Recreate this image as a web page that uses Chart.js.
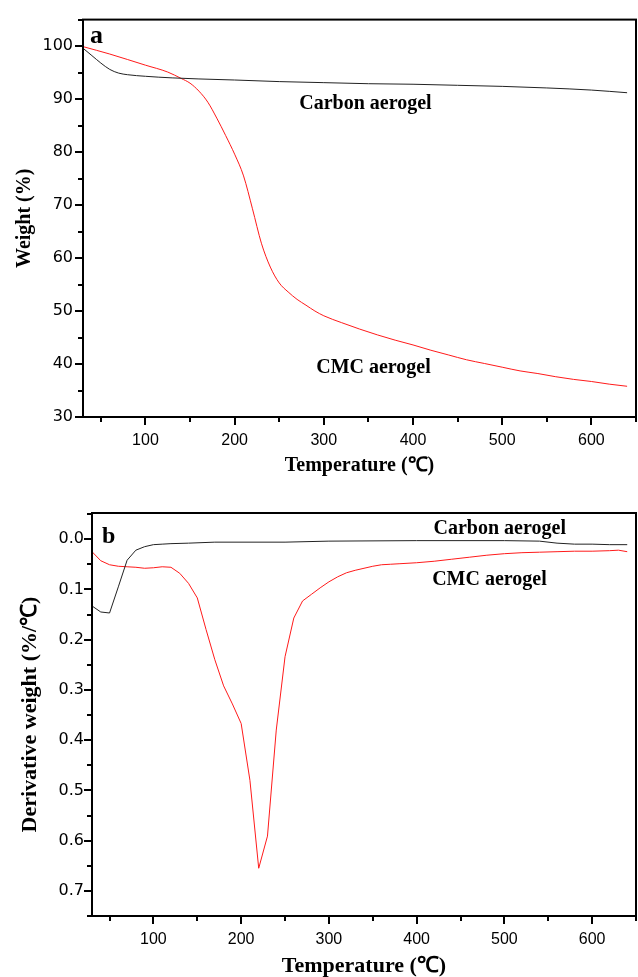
<!DOCTYPE html>
<html>
<head>
<meta charset="utf-8">
<script src="https://cdn.jsdelivr.net/npm/chart.js@4.4.1/dist/chart.umd.min.js"></script>
<style>
body { margin: 0; background: #fff; }
#panel_a { position: absolute; left: 0; top: 0; }
#panel_b { position: absolute; left: 0; top: 490px; }
</style>
</head>
<body>
<canvas id="panel_a" width="638" height="490"></canvas>
<canvas id="panel_b" width="638" height="487"></canvas>
<script>
// panel a: TGA, weight (%)
const tga_temp_carbon = [30, 40, 50, 60, 70, 80, 100, 130, 160, 200, 250, 300, 350, 400, 450, 500, 550, 600, 640];
const tga_carbon = [99.6, 98.2, 96.8, 95.6, 94.9, 94.6, 94.3, 94.0, 93.8, 93.6, 93.3, 93.1, 92.9, 92.8, 92.6, 92.4, 92.1, 91.7, 91.2];
const tga_temp_cmc = [30, 60, 100, 125, 140, 150, 160, 170, 180, 190, 200, 210, 220, 230, 240, 250, 260, 270, 280, 290,
    300, 320, 340, 360, 380, 400, 420, 440, 460, 480, 500, 520, 540, 560, 580, 600, 620, 640];
const tga_cmc = [99.9, 98.5, 96.4, 95.1, 93.9, 93.0, 91.5, 89.4, 86.4, 83.1, 79.6, 75.5, 69.3, 62.8, 58.3, 55.3, 53.6, 52.2, 51.1, 50.0,
    49.1, 47.8, 46.6, 45.5, 44.5, 43.6, 42.6, 41.7, 40.8, 40.1, 39.4, 38.7, 38.2, 37.6, 37.1, 36.7, 36.2, 35.8];

// panel b: DTG, derivative weight (%/℃)
const dtg_temp_carbon = [30, 40, 50, 60, 70, 80, 90, 100, 110, 120, 140, 170, 250, 300, 400, 500, 540, 560, 580, 600, 620, 640];
const dtg_carbon = [0.133, 0.145, 0.147, 0.095, 0.042, 0.022, 0.015, 0.011, 0.010, 0.009, 0.008, 0.006, 0.006, 0.004, 0.003, 0.003, 0.004, 0.008, 0.010, 0.010, 0.011, 0.011];
const dtg_temp_cmc = [30, 40, 50, 60, 70, 80, 90, 100, 110, 120, 130, 140, 150, 160, 170, 180, 190, 200, 210, 220,
    230, 240, 250, 260, 270, 280, 290, 300, 310, 320, 330, 340, 350, 360, 370, 380, 400, 420, 440, 460,
    480, 500, 520, 540, 560, 580, 600, 620, 630, 640];
const dtg_cmc = [0.025, 0.043, 0.051, 0.054, 0.055, 0.056, 0.058, 0.057, 0.055, 0.056, 0.068, 0.088, 0.117, 0.180, 0.240, 0.292, 0.328, 0.367, 0.480, 0.655,
    0.591, 0.380, 0.234, 0.157, 0.123, 0.110, 0.097, 0.085, 0.075, 0.067, 0.062, 0.058, 0.054, 0.051, 0.050, 0.049, 0.047, 0.044, 0.040, 0.036,
    0.032, 0.029, 0.027, 0.026, 0.025, 0.024, 0.024, 0.023, 0.022, 0.025];

// tick labels
const temp_ticks = [100, 200, 300, 400, 500, 600];
const weight_ticks = [30, 40, 50, 60, 70, 80, 90, 100];
const deriv_ticks = [0.0, 0.1, 0.2, 0.3, 0.4, 0.5, 0.6, 0.7];

const serif_bold = '"Liberation Serif", "Times New Roman", serif';

function zip_points(xs, ys) {
    return xs.map((x, i) => ({ x: x, y: ys[i] }));
}

// box round the plot, outward ticks on left and bottom only
const frame_plugin = {
    id: 'frame_ticks',
    afterDraw(chart, args, opts) {
        const ctx = chart.ctx;
        const area = chart.chartArea;
        const xs = chart.scales.x;
        const ys = chart.scales.y;
        ctx.save();
        ctx.strokeStyle = '#000';
        ctx.lineWidth = 2;
        ctx.strokeRect(area.left, area.top, area.right - area.left, area.bottom - area.top);
        ctx.beginPath();
        const nx = Math.round((xs.max - opts.x_start) / opts.x_step);
        for (let i = 0; i <= nx; i++) {
            const v = opts.x_start + i * opts.x_step;
            const major = Math.abs(v / opts.x_major - Math.round(v / opts.x_major)) < 1e-6;
            const px = Math.round(xs.getPixelForValue(v));
            ctx.moveTo(px, area.bottom);
            ctx.lineTo(px, area.bottom + (major ? 8 : 5));
        }
        const ny = Math.round((opts.y_end - opts.y_start) / opts.y_step);
        for (let i = 0; i <= ny; i++) {
            const v = opts.y_start + i * opts.y_step;
            const major = Math.abs(v / opts.y_major - Math.round(v / opts.y_major)) < 1e-6;
            const py = Math.round(ys.getPixelForValue(v));
            ctx.moveTo(area.left, py);
            ctx.lineTo(area.left - (major ? 8 : 5), py);
        }
        ctx.stroke();
        ctx.restore();
    },
};

const notes_plugin = {
    id: 'panel_notes',
    afterDraw(chart, args, opts) {
        const ctx = chart.ctx;
        const area = chart.chartArea;
        ctx.save();
        ctx.fillStyle = '#000';
        ctx.textBaseline = 'alphabetic';
        ctx.font = 'bold ' + opts.letter_size + 'px ' + serif_bold;
        ctx.textAlign = 'left';
        ctx.fillText(opts.letter, area.left + opts.letter_dx, area.top + opts.letter_dy);
        ctx.font = 'bold 20px ' + serif_bold;
        ctx.textAlign = 'center';
        opts.notes.forEach((n) => {
            ctx.fillText(n.text, chart.scales.x.getPixelForValue(n.x), chart.scales.y.getPixelForValue(n.y));
        });
        ctx.restore();
    },
};

function build_options(cfg) {
    return {
        responsive: false,
        animation: false,
        devicePixelRatio: 1,
        layout: { padding: { top: cfg.pad_top, right: 2, left: 0, bottom: 0 } },
        elements: { point: { radius: 0 } },
        plugins: {
            legend: { display: false },
            tooltip: { enabled: false },
            frame_ticks: cfg.frame,
            panel_notes: cfg.notes,
        },
        scales: {
            x: {
                type: 'linear',
                min: 30,
                max: 650,
                afterFit(scale) { scale.height = cfg.x_height; },
                afterBuildTicks(scale) { scale.ticks = temp_ticks.map((v) => ({ value: v })); },
                grid: { display: false, drawTicks: false },
                border: { display: false },
                ticks: {
                    padding: 14,
                    color: '#000',
                    font: { family: '"Liberation Sans", Arial, sans-serif', size: 16 },
                    maxRotation: 0,
                },
                title: {
                    display: true,
                    text: 'Temperature (℃)',
                    color: '#000',
                    font: { family: serif_bold, size: cfg.title_size, weight: 'bold', lineHeight: 1 },
                    padding: { top: 0, bottom: cfg.x_title_pad },
                },
            },
            y: {
                type: 'linear',
                min: cfg.y_min,
                max: cfg.y_max,
                reverse: cfg.reverse,
                afterFit(scale) { scale.width = cfg.y_width; },
                afterBuildTicks(scale) { scale.ticks = cfg.y_ticks.map((v) => ({ value: v })); },
                grid: { display: false, drawTicks: false },
                border: { display: false },
                ticks: {
                    padding: cfg.y_pad,
                    color: '#000',
                    font: { family: '"DejaVu Sans", sans-serif', size: 16 },
                    callback: cfg.y_fmt,
                },
                title: {
                    display: true,
                    text: cfg.y_title,
                    color: '#000',
                    font: { family: serif_bold, size: cfg.title_size, weight: 'bold', lineHeight: 1 },
                    padding: { top: cfg.y_title_pad, bottom: 0 },
                },
            },
        },
    };
}

new Chart(document.getElementById('panel_a').getContext('2d'), {
    type: 'line',
    data: {
        datasets: [
            {
                label: 'Carbon aerogel',
                data: zip_points(tga_temp_carbon, tga_carbon),
                borderColor: '#222',
                borderWidth: 1,
                cubicInterpolationMode: 'monotone',
            },
            {
                label: 'CMC aerogel',
                data: zip_points(tga_temp_cmc, tga_cmc),
                borderColor: '#ff1a1a',
                borderWidth: 1,
                cubicInterpolationMode: 'monotone',
            },
        ],
    },
    options: build_options({
        pad_top: 8,
        x_height: 73,
        y_width: 83,
        y_min: 30,
        y_max: 105,
        reverse: false,
        y_ticks: weight_ticks,
        y_pad: 10,
        y_fmt: (v) => String(v),
        y_title: 'Weight (%)',
        title_size: 20,
        x_title_pad: 14,
        y_title_pad: 15,
        frame: { x_start: 50, x_step: 50, x_major: 100, y_start: 30, y_end: 105, y_step: 5, y_major: 10 },
        notes: {
            letter: 'a', letter_size: 26, letter_dx: 7, letter_dy: 23,
            notes: [
                { text: 'Carbon aerogel', x: 346.7, y: 88.2 },
                { text: 'CMC aerogel', x: 355.7, y: 38.3 },
            ],
        },
    }),
    plugins: [frame_plugin, notes_plugin],
});

new Chart(document.getElementById('panel_b').getContext('2d'), {
    type: 'line',
    data: {
        datasets: [
            {
                label: 'Carbon aerogel',
                data: zip_points(dtg_temp_carbon, dtg_carbon),
                borderColor: '#222',
                borderWidth: 1,
                tension: 0,
            },
            {
                label: 'CMC aerogel',
                data: zip_points(dtg_temp_cmc, dtg_cmc),
                borderColor: '#ff1a1a',
                borderWidth: 1,
                tension: 0,
            },
        ],
    },
    options: build_options({
        pad_top: 23,
        x_height: 61,
        y_width: 92,
        y_min: -0.052,
        y_max: 0.75,
        reverse: true,
        y_ticks: deriv_ticks,
        y_pad: 8,
        y_fmt: (v) => Number(v).toFixed(1),
        y_title: 'Derivative weight (%/℃)',
        title_size: 22,
        x_title_pad: 0,
        y_title_pad: 19,
        frame: { x_start: 50, x_step: 50, x_major: 100, y_start: -0.05, y_end: 0.75, y_step: 0.05, y_major: 0.1 },
        notes: {
            letter: 'b', letter_size: 24, letter_dx: 10, letter_dy: 30,
            notes: [
                { text: 'Carbon aerogel', x: 494.7, y: -0.010 },
                { text: 'CMC aerogel', x: 483, y: 0.0915 },
            ],
        },
    }),
    plugins: [frame_plugin, notes_plugin],
});
</script>
</body>
</html>
